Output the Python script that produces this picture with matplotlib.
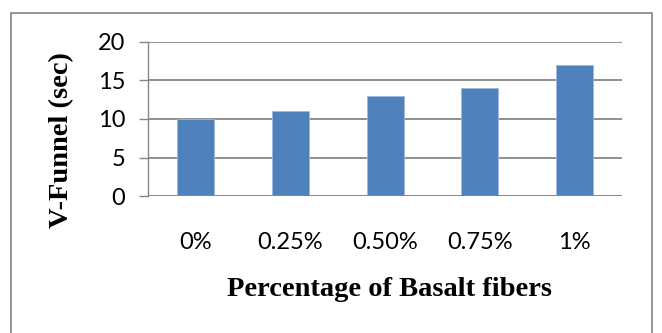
import matplotlib.pyplot as plt
from matplotlib.patches import Rectangle

# V-funnel flow time for each basalt fiber dosage
categories = ['0%', '0.25%', '0.50%', '0.75%', '1%']
vfunnel_sec = [10, 11, 13, 14, 17]
yticks = [0, 5, 10, 15, 20]

bar_color = '#4F81BD'
grid_color = '#878787'

fig = plt.figure(figsize=(6.62, 3.33), dpi=100)
ax = fig.add_axes([0.2236, 0.4114, 0.716, 0.4625])

x = range(len(categories))
ax.bar(x, vfunnel_sec, width=0.39, color=bar_color,
       edgecolor='#9fb8da', linewidth=0.6, zorder=3)

ax.set_xlim(-0.5, len(categories) - 0.5)
ax.set_ylim(0, 20)
ax.set_yticks(yticks)
ax.set_xticks(list(x))
ax.set_xticklabels(categories)

ax.grid(axis='y', color=grid_color, linewidth=1.3, zorder=0)
for side in ['top', 'right', 'bottom']:
    ax.spines[side].set_visible(False)
ax.spines['left'].set_color(grid_color)
ax.spines['left'].set_linewidth(1.0)
ax.axhline(0, color=grid_color, linewidth=1.3, zorder=4)

tick_font = {'family': 'Lato', 'size': 17}
ax.tick_params(axis='y', direction='out', length=6.5, width=1.0,
               color=grid_color, pad=10)
ax.tick_params(axis='x', length=0, pad=26)
for lab in ax.get_yticklabels() + ax.get_xticklabels():
    lab.set_fontfamily(tick_font['family'])
    lab.set_fontsize(tick_font['size'])

label_font = dict(family='Liberation Serif', weight='bold', size=20.5)
fig.text(389 / 662, 1 - 290 / 333, 'Percentage of Basalt fibers',
         ha='center', va='center', **label_font)
fig.text(62 / 662, 1 - 140 / 333, 'V-Funnel (sec)', rotation=90,
         ha='center', va='center', **label_font)

# chart frame, open at the bottom edge of the image
frame = Rectangle((11 / 662, -0.2), 641 / 662, 1.2 - 13 / 333,
                  transform=fig.transFigure, fill=False,
                  edgecolor='#8c8c8c', linewidth=1.3, clip_on=False)
fig.patches.append(frame)

fig.savefig('out.png', dpi=100)
